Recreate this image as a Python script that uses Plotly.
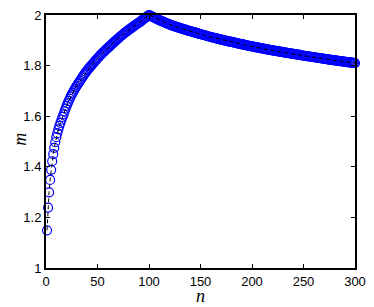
import plotly.graph_objects as go

# n = 1 ... 300
n = list(range(1, 301))

# m, rising part (n = 1..100)
m_rise = [
    1.149, 1.239, 1.299, 1.348, 1.388, 1.422, 1.450, 1.475, 1.497, 1.517,
    1.533, 1.548, 1.562, 1.574, 1.586, 1.597, 1.607, 1.619, 1.630, 1.641,
    1.651, 1.660, 1.669, 1.678, 1.686, 1.693, 1.701, 1.708, 1.715, 1.721,
    1.728, 1.734, 1.740, 1.746, 1.752, 1.758, 1.764, 1.770, 1.775, 1.781,
    1.786, 1.791, 1.796, 1.801, 1.805, 1.810, 1.815, 1.820, 1.824, 1.829,
    1.833, 1.838, 1.842, 1.846, 1.850, 1.854, 1.858, 1.862, 1.866, 1.870,
    1.873, 1.877, 1.881, 1.885, 1.889, 1.893, 1.896, 1.900, 1.904, 1.907,
    1.911, 1.914, 1.918, 1.921, 1.924, 1.928, 1.931, 1.934, 1.937, 1.940,
    1.943, 1.946, 1.949, 1.952, 1.955, 1.958, 1.961, 1.964, 1.967, 1.969,
    1.972, 1.975, 1.978, 1.982, 1.985, 1.988, 1.991, 1.994, 1.997, 2.000,
]

# falling part (n = 101..300)
m_fall = [
    1.998, 1.996, 1.994, 1.992, 1.990, 1.988, 1.986, 1.984, 1.982, 1.980,
    1.978, 1.976, 1.975, 1.973, 1.971, 1.969, 1.967, 1.966, 1.964, 1.962,
    1.961, 1.959, 1.958, 1.956, 1.955, 1.954, 1.952, 1.951, 1.950, 1.948,
    1.947, 1.946, 1.944, 1.943, 1.942, 1.941, 1.939, 1.938, 1.937, 1.936,
    1.935, 1.933, 1.932, 1.931, 1.930, 1.929, 1.927, 1.926, 1.925, 1.924,
    1.923, 1.922, 1.921, 1.920, 1.919, 1.917, 1.916, 1.915, 1.914, 1.913,
    1.912, 1.911, 1.910, 1.909, 1.908, 1.907, 1.906, 1.905, 1.904, 1.903,
    1.902, 1.901, 1.900, 1.899, 1.898, 1.897, 1.896, 1.895, 1.895, 1.894,
    1.893, 1.892, 1.891, 1.890, 1.889, 1.888, 1.887, 1.886, 1.885, 1.884,
    1.884, 1.883, 1.882, 1.881, 1.880, 1.879, 1.878, 1.877, 1.877, 1.876,
    1.875, 1.874, 1.873, 1.872, 1.872, 1.871, 1.870, 1.869, 1.868, 1.868,
    1.867, 1.866, 1.865, 1.864, 1.864, 1.863, 1.862, 1.861, 1.861, 1.860,
    1.859, 1.858, 1.858, 1.857, 1.856, 1.856, 1.855, 1.854, 1.854, 1.853,
    1.852, 1.851, 1.851, 1.850, 1.849, 1.849, 1.848, 1.847, 1.847, 1.846,
    1.845, 1.845, 1.844, 1.843, 1.843, 1.842, 1.841, 1.841, 1.840, 1.839,
    1.839, 1.838, 1.837, 1.837, 1.836, 1.836, 1.835, 1.834, 1.834, 1.833,
    1.832, 1.832, 1.831, 1.831, 1.830, 1.829, 1.829, 1.828, 1.828, 1.827,
    1.826, 1.826, 1.825, 1.825, 1.824, 1.823, 1.823, 1.822, 1.822, 1.821,
    1.821, 1.820, 1.819, 1.819, 1.818, 1.818, 1.817, 1.817, 1.816, 1.815,
    1.815, 1.814, 1.814, 1.813, 1.813, 1.812, 1.812, 1.811, 1.811, 1.810,
]
m = m_rise + m_fall

x_ticks = [0, 50, 100, 150, 200, 250, 300]
y_ticks = [1, 1.2, 1.4, 1.6, 1.8, 2]
y_labels = ["1", "1.2", "1.4", "1.6", "1.8", "2"]

fig = go.Figure()
# blue open circles
fig.add_trace(go.Scatter(x=n, y=m, mode="markers", cliponaxis=False,
                         marker=dict(symbol="circle-open", size=9, color="#0000ff",
                                     line=dict(width=1.2, color="#0000ff"))))
# black dashed line on top
fig.add_trace(go.Scatter(x=n, y=m, mode="lines",
                         line=dict(color="black", width=1, dash="4px,3px")))

axis_style = dict(showline=True, linecolor="black", linewidth=2, mirror="ticks",
                  ticks="inside", ticklen=4, tickwidth=1, tickcolor="black",
                  showgrid=False, zeroline=False, automargin=False,
                  ticklabeloverflow="allow",
                  tickfont=dict(family="Liberation Sans", size=13, color="black"))

fig.update_xaxes(range=[0, 300], tickvals=x_ticks, **axis_style)
fig.update_yaxes(range=[1, 2], tickvals=y_ticks, ticktext=y_labels, **axis_style)

label_font = dict(family="Liberation Serif", size=18, color="black")
fig.add_annotation(text="<i>n</i>", x=150, xref="x", y=-0.11, yref="paper",
                   xanchor="center", yanchor="middle", showarrow=False, font=label_font)
fig.add_annotation(text="<i>m</i>", x=-0.085, xref="paper", y=0.51, yref="paper",
                   xanchor="center", yanchor="middle", textangle=-90,
                   showarrow=False, font=label_font)

# the page puts the figure 8px in from the top-left corner
fig.update_layout(width=366, height=299, showlegend=False,
                  plot_bgcolor="white", paper_bgcolor="white",
                  margin=dict(l=38, r=19, t=7, b=39))

fig.write_html("out.html")
